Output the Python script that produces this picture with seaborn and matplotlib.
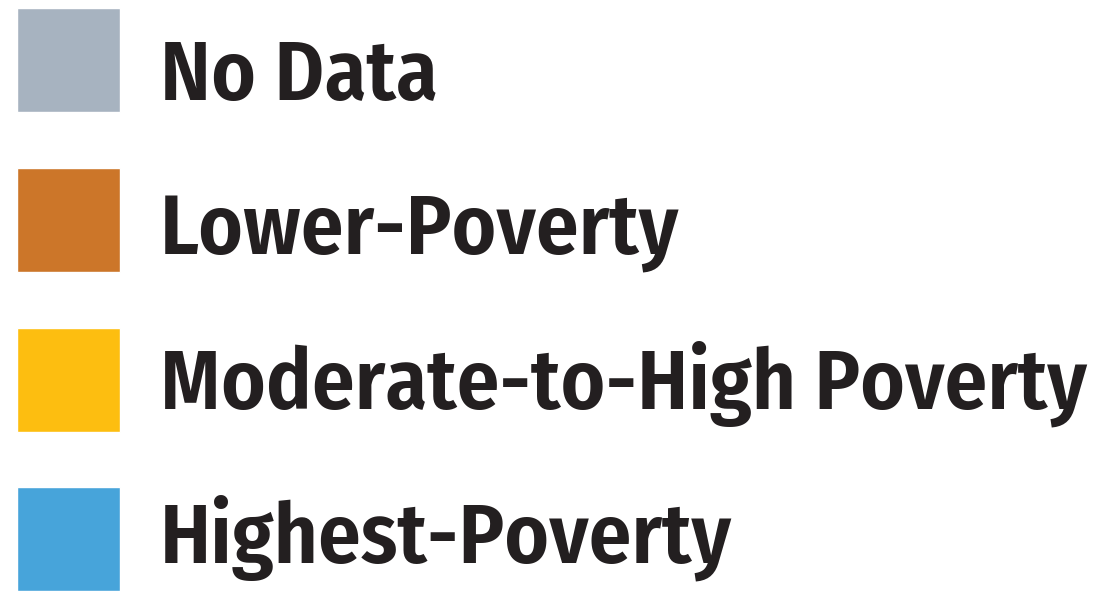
import seaborn as sns
import matplotlib.pyplot as plt
from matplotlib import font_manager

# legend entries
categories = ["No Data", "Lower-Poverty", "Moderate-to-High Poverty", "Highest-Poverty"]
colors = ["#A7B3C0", "#CC7629", "#FDBE10", "#47A4DA"]
swatch = [1, 1, 1, 1]

sns.set_theme(style="white")

# a Frutiger-condensed-like face, whichever is installed
installed = {f.name for f in font_manager.fontManager.ttflist}
wanted = ["Fira Sans Condensed", "Asap Condensed", "Barlow Semi Condensed", "Roboto Condensed"]
family = [n for n in wanted if n in installed][:1] + ["Roboto", "DejaVu Sans"]
plt.rcParams['font.family'] = family

W, H = 1115, 591
fig = plt.figure(figsize=(W / 100, H / 100), dpi=100)
ax = fig.add_axes([0, 0, 1, 1])

sns.barplot(x=swatch, y=categories, hue=categories, palette=colors,
            orient="h", width=0.65, legend=False, saturation=1, ax=ax)

# pixel layout: swatch 103px wide starting at x=17, rows ~159.8px apart
px = 103.0
step = 159.8
ax.set_xlim(-17 / px, (W - 17) / px)
ax.set_ylim((H - 60) / step, -60 / step)
ax.axis("off")

texts = []
for i, lab in enumerate(categories):
    base_px = 100 + 154.3 * i
    t = ax.text((160 - 17) / px, (base_px - 60) / step, lab, ha="left", va="baseline",
                fontsize=57.5, fontweight="semibold", color="#231F20")
    texts.append(t)

# fit the longest label to the reference width (~928 px)
r = fig.canvas.get_renderer()
w = texts[2].get_window_extent(r).width
fs = min(62, 57.5 * 928 / w)
for t in texts:
    t.set_fontsize(fs)

fig.savefig("out.png", dpi=100, facecolor="white")
